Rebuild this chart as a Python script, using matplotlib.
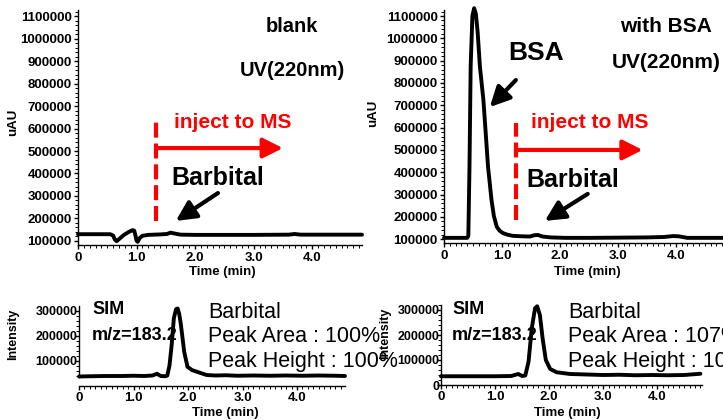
import numpy as np
import matplotlib
matplotlib.use("Agg")
import matplotlib.pyplot as plt
from matplotlib.ticker import MultipleLocator, FixedLocator

plt.rcParams["font.family"] = ["Liberation Sans", "DejaVu Sans"]

# UV 220 nm, blank
t_blank = [0, 0.55, 0.60, 0.63, 0.66, 0.70, 0.78, 0.86, 0.93, 0.96, 0.98, 1.00, 1.02,
           1.05, 1.10, 1.20, 1.40, 1.52, 1.58, 1.65, 1.75, 2.0, 3.0, 3.6, 3.7, 3.8, 4.85]
uv_blank = [130000, 130000, 124000, 106000, 99000, 108000, 126000, 139000, 148000, 146000,
            126000, 101000, 96000, 112000, 123000, 127000, 129000, 131000, 137000, 133000,
            128000, 127000, 127000, 128000, 131000, 128000, 128000]

# UV 220 nm, with BSA
t_bsa = [0, 0.40, 0.42, 0.44, 0.46, 0.49, 0.52, 0.55, 0.58, 0.62, 0.68, 0.72, 0.76, 0.82,
         0.86, 0.91, 0.96, 1.02, 1.10, 1.19, 1.35, 1.48, 1.56, 1.62, 1.70, 1.85, 2.1, 2.5,
         3.0, 3.5, 3.8, 3.95, 4.05, 4.2, 4.85]
uv_bsa = [106000, 106000, 115000, 425000, 873000, 1100000, 1135000, 1110000, 1030000,
          873000, 724000, 575000, 425000, 276000, 205000, 156000, 138000, 127000, 120000,
          115000, 113000, 112000, 118000, 119000, 112000, 108000, 106000, 106000, 107000,
          108000, 110000, 114000, 113000, 106000, 106000]

# SIM m/z=183.2, blank
t_sim1 = [0, 0.2, 0.5, 0.8, 1.0, 1.2, 1.35, 1.43, 1.5, 1.58, 1.62, 1.66, 1.70, 1.74, 1.78,
          1.81, 1.84, 1.87, 1.93, 1.99, 2.07, 2.19, 2.34, 2.5, 2.7, 2.9, 3.2, 3.5, 3.8, 4.1,
          4.4, 4.7, 4.88]
sim1 = [36000, 37000, 38000, 38000, 39000, 38000, 40000, 47000, 38000, 37000, 40000, 80000,
        162000, 269000, 305000, 308000, 285000, 242000, 135000, 75000, 62000, 53000, 42000,
        40000, 41000, 39000, 40000, 39000, 40000, 39000, 40000, 39000, 38000]

# SIM m/z=183.2, with BSA
t_sim2 = [0, 0.5, 1.0, 1.3, 1.43, 1.5, 1.56, 1.62, 1.68, 1.74, 1.78, 1.83, 1.88, 1.94, 2.02,
          2.14, 2.39, 2.7, 3.0, 3.3, 3.6, 3.9, 4.2, 4.5, 4.8]
sim2 = [35000, 35000, 35000, 36000, 44000, 36000, 38000, 93000, 227000, 307000, 315000,
        280000, 187000, 100000, 64000, 51000, 44000, 42000, 40000, 41000, 39000, 40000,
        39000, 40000, 45000]

x_ticks = [0, 1, 2, 3, 4]
x_labels = ["0", "1.0", "2.0", "3.0", "4.0"]
uv_ticks = list(range(100000, 1100001, 100000))
sim_ticks1 = [100000, 200000, 300000]
sim_ticks2 = [0, 100000, 200000, 300000]

W, H = 723, 420
fig = plt.figure(figsize=(7.23, 4.20), dpi=100)


def box(l, t, r, b):
    return [l / W, 1 - b / H, (r - l) / W, (b - t) / H]


def fx(px):
    return px / W


def fy(py):
    return 1 - py / H


def style(ax, xmax, ylim, yticks, ylabsize, ypad, xpad):
    for s in ["top", "right"]:
        ax.spines[s].set_visible(False)
    for s in ["left", "bottom"]:
        ax.spines[s].set_linewidth(1.0)
    ax.set_xlim(0, xmax)
    ax.set_ylim(*ylim)
    ax.set_xticks(x_ticks, x_labels, fontweight="bold", fontsize=9.5)
    ax.set_yticks(yticks, [str(v) for v in yticks], fontweight="bold", fontsize=ylabsize)
    ax.xaxis.set_minor_locator(MultipleLocator(0.1))
    ax.yaxis.set_minor_locator(MultipleLocator(20000))
    ax.tick_params(axis="x", which="major", direction="out", length=3, width=1, pad=xpad)
    ax.tick_params(axis="y", which="major", direction="out", length=3, width=1, pad=ypad)
    ax.tick_params(which="minor", direction="out", length=2, width=0.7)


line_kw = dict(color="black", lw=2.8, solid_capstyle="round", solid_joinstyle="round",
               clip_on=False, zorder=2)
red_arrow = dict(arrowstyle="-|>,head_length=0.6,head_width=0.3", color="red", lw=3,
                 shrinkA=0, shrinkB=0, mutation_scale=20)
blk_arrow = dict(arrowstyle="-|>,head_length=0.6,head_width=0.3", color="black", lw=3,
                 shrinkA=0, shrinkB=0, mutation_scale=20)

# ---- top left: blank UV
ax1 = fig.add_axes(box(78, 10, 362, 245))
style(ax1, 4.85, (82000, 1127000), uv_ticks, 9.5, 1.5, 2)
ax1.plot(t_blank, uv_blank, **line_kw)
ax1.plot([1.34, 1.34], [189000, 629000], color="red", lw=3, dashes=(3.6, 1.4))
ax1.annotate("", xy=(3.5, 513000), xytext=(1.34, 513000), arrowprops=red_arrow)
ax1.annotate("", xy=(1.67, 189000), xytext=(2.39, 313000), arrowprops=blk_arrow)
ax1.set_ylabel("uAU", fontsize=9.5, fontweight="bold", va="center")
ax1.yaxis.set_label_coords(-0.229, 0.523)
ax1.set_xlabel("Time (min)", fontsize=9.5, fontweight="bold", va="center")
ax1.xaxis.set_label_coords((222 - 78) / 284, -(272 - 245) / 235)
fig.text(fx(292), fy(27), "blank", ha="center", va="center", fontsize=14.5, fontweight="bold")
fig.text(fx(292), fy(71), "UV(220nm)", ha="center", va="center", fontsize=14.5, fontweight="bold")
fig.text(fx(233), fy(122), "inject to MS", ha="center", va="center", fontsize=15,
         fontweight="bold", color="red")
fig.text(fx(218), fy(178), "Barbital", ha="center", va="center", fontsize=18, fontweight="bold")

# ---- top right: with BSA UV
ax2 = fig.add_axes(box(444, 10, 725, 243))
style(ax2, 4.85, (83000, 1127000), uv_ticks, 9.5, 1.5, 2)
ax2.plot(t_bsa, uv_bsa, **line_kw)
ax2.plot([1.24, 1.24], [186000, 621000], color="red", lw=3, dashes=(3.6, 1.4))
ax2.annotate("", xy=(3.43, 500000), xytext=(1.24, 500000), arrowprops=red_arrow)
ax2.annotate("", xy=(1.74, 182000), xytext=(2.48, 303000), arrowprops=blk_arrow)
ax2.annotate("", xy=(0.79, 692000), xytext=(1.24, 813000), arrowprops=blk_arrow)
ax2.set_ylabel("uAU", fontsize=9.5, fontweight="bold", va="center")
ax2.yaxis.set_label_coords(-0.253, 0.558)
ax2.set_xlabel("Time (min)", fontsize=9.5, fontweight="bold", va="center")
ax2.xaxis.set_label_coords(0.509, -0.124)
fig.text(fx(666), fy(26), "with BSA", ha="center", va="center", fontsize=15, fontweight="bold")
fig.text(fx(666), fy(63), "UV(220nm)", ha="center", va="center", fontsize=15, fontweight="bold")
fig.text(fx(536), fy(53), "BSA", ha="center", va="center", fontsize=19, fontweight="bold")
fig.text(fx(590), fy(122), "inject to MS", ha="center", va="center", fontsize=15,
         fontweight="bold", color="red")
fig.text(fx(573), fy(180), "Barbital", ha="center", va="center", fontsize=18, fontweight="bold")

# ---- bottom left: SIM blank
ax3 = fig.add_axes(box(79, 306, 345, 386))
style(ax3, 4.88, (-2000, 318000), sim_ticks1, 9, -2, 1)
ax3.spines["left"].set_bounds(36000, 318000)
ax3.yaxis.set_minor_locator(FixedLocator(list(range(40000, 318001, 20000))))
ax3.plot(t_sim1, sim1, **line_kw)
ax3.set_ylabel("Intensity", fontsize=9, fontweight="bold", va="center")
ax3.yaxis.set_label_coords(-0.248, 0.65)
ax3.set_xlabel("Time (min)", fontsize=9.5, fontweight="bold", va="center")
ax3.xaxis.set_label_coords(0.549, -0.3375)

# ---- bottom right: SIM with BSA
ax4 = fig.add_axes(box(441, 305, 702, 385))
style(ax4, 4.83, (0, 320000), sim_ticks2, 9, -2, 1)
ax4.plot(t_sim2, sim2, **line_kw)
ax4.set_ylabel("Intensity", fontsize=9, fontweight="bold", va="center")
ax4.yaxis.set_label_coords(-0.215, 0.65)
ax4.set_xlabel("Time (min)", fontsize=9.5, fontweight="bold", va="center")
ax4.xaxis.set_label_coords(0.483, -0.35)

for ax, x0, x1, area, height in [(ax3, 92, 208, "100%", "100%"),
                                 (ax4, 452, 568, "107%", "105%")]:
    kw = dict(transform=fig.transFigure, ha="left", va="center", zorder=1)
    ax.text(fx(x0), fy(310), "SIM", fontsize=13, fontweight="bold", **kw)
    ax.text(fx(x0), fy(335), "m/z=183.2", fontsize=13, fontweight="bold", **kw)
    ax.text(fx(x1), fy(312), "Barbital", fontsize=15.5, **kw)
    ax.text(fx(x1), fy(337), "Peak Area : " + area, fontsize=15.5, **kw)
    ax.text(fx(x1), fy(362), "Peak Height : " + height, fontsize=15.5, **kw)

fig.savefig("out.png", dpi=100)
